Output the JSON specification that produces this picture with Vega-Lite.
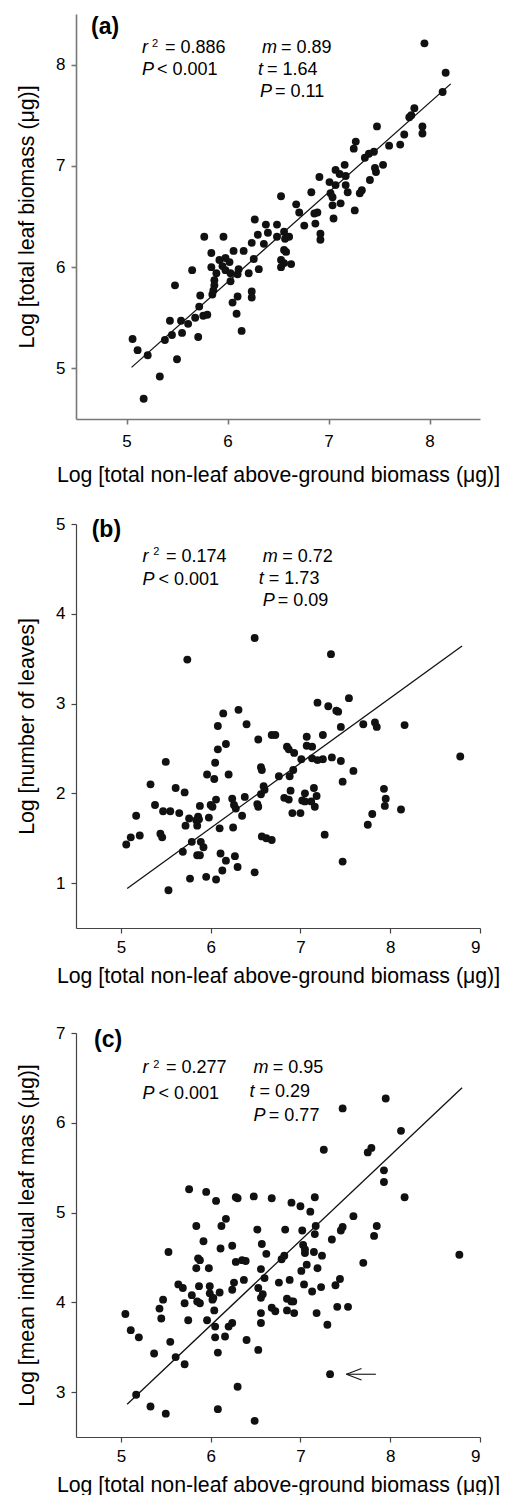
{
  "$schema": "https://vega.github.io/schema/vega-lite/v6.json",
  "padding": {"left": 16, "top": 14, "right": 5, "bottom": 3},
  "background": "white",
  "config": {
    "font": "Liberation Sans",
    "view": {"stroke": null},
    "axis": {"grid": false, "labelFont": "Liberation Sans", "titleFont": "Liberation Sans", "labelFontSize": 17, "titleFontSize": 21.3, "titleFontWeight": "normal", "labelColor": "#000", "titleColor": "#000", "tickSize": 5, "labelPadding": 6, "domainColor": "#444", "tickColor": "#444", "domainWidth": 1.2, "tickWidth": 1.2},
    "axisY": {"titlePadding": 18},
    "axisX": {"titlePadding": 10},
    "concat": {"spacing": 105}
  },
  "bounds": "flush",
  "spacing": 105,
  "datasets": {
    "a": [
      {"x":7.95,"y":8.21},{"x":8.16,"y":7.92},{"x":8.13,"y":7.73},{"x":7.85,"y":7.57},{"x":7.82,"y":7.5},{"x":7.8,"y":7.48},{"x":7.93,"y":7.39},{"x":7.93,"y":7.32},{"x":7.48,"y":7.39},{"x":7.75,"y":7.31},
      {"x":7.6,"y":7.2},{"x":7.71,"y":7.21},{"x":7.27,"y":7.24},{"x":7.25,"y":7.17},{"x":7.45,"y":7.14},{"x":7.4,"y":7.12},{"x":7.36,"y":7.08},{"x":7.54,"y":7.01},{"x":7.46,"y":6.98},{"x":7.47,"y":6.94},
      {"x":7.41,"y":6.86},{"x":7.16,"y":7.01},{"x":7.07,"y":6.96},{"x":7.11,"y":6.92},{"x":7.17,"y":6.9},{"x":6.91,"y":6.89},{"x":7.01,"y":6.84},{"x":7.17,"y":6.81},{"x":7.07,"y":6.81},{"x":7.33,"y":6.76},
      {"x":7.31,"y":6.73},{"x":7.19,"y":6.74},{"x":6.83,"y":6.74},{"x":7.02,"y":6.73},{"x":7.04,"y":6.69},{"x":6.53,"y":6.7},{"x":7.12,"y":6.63},{"x":7.04,"y":6.61},{"x":7.26,"y":6.56},{"x":6.68,"y":6.62},
      {"x":6.71,"y":6.54},{"x":6.89,"y":6.54},{"x":6.86,"y":6.53},{"x":7.05,"y":6.48},{"x":6.87,"y":6.43},{"x":6.76,"y":6.41},{"x":6.27,"y":6.47},{"x":6.38,"y":6.42},{"x":6.49,"y":6.42},
      {"x":5.77,"y":6.3},{"x":5.96,"y":6.3},{"x":6.24,"y":6.24},{"x":6.3,"y":6.32},{"x":6.36,"y":6.23},{"x":6.4,"y":6.34},{"x":6.49,"y":6.3},{"x":6.56,"y":6.35},{"x":6.61,"y":6.3},{"x":6.92,"y":6.33},
      {"x":6.92,"y":6.27},{"x":5.84,"y":6.14},{"x":5.92,"y":6.07},{"x":5.98,"y":6.09},{"x":6.02,"y":6.05},{"x":6.06,"y":6.16},{"x":6.16,"y":6.16},{"x":6.26,"y":6.08},{"x":6.56,"y":6.17},{"x":6.58,"y":6.15},
      {"x":6.53,"y":6.07},{"x":6.56,"y":6.04},{"x":6.53,"y":6.0},{"x":6.63,"y":6.03},{"x":5.84,"y":6.0},{"x":5.95,"y":6.01},{"x":5.98,"y":5.97},{"x":6.03,"y":5.94},{"x":6.11,"y":5.98},{"x":6.1,"y":5.93},
      {"x":6.21,"y":5.94},{"x":6.31,"y":5.98},{"x":5.89,"y":5.94},{"x":5.87,"y":5.87},{"x":6.03,"y":5.86},{"x":5.87,"y":5.82},{"x":5.86,"y":5.77},{"x":5.85,"y":5.73},{"x":5.65,"y":5.97},{"x":5.48,"y":5.82},
      {"x":5.73,"y":5.72},{"x":6.05,"y":5.65},{"x":6.1,"y":5.71},{"x":6.24,"y":5.76},{"x":6.24,"y":5.7},{"x":5.72,"y":5.61},{"x":5.68,"y":5.5},{"x":5.76,"y":5.52},{"x":5.8,"y":5.53},{"x":6.09,"y":5.54},
      {"x":6.14,"y":5.37},{"x":5.54,"y":5.47},{"x":5.43,"y":5.47},{"x":5.61,"y":5.44},{"x":5.45,"y":5.33},{"x":5.55,"y":5.35},{"x":5.71,"y":5.31},{"x":5.38,"y":5.28},{"x":5.06,"y":5.29},{"x":5.11,"y":5.18},
      {"x":5.21,"y":5.13},{"x":5.5,"y":5.09},{"x":5.33,"y":4.92},{"x":5.17,"y":4.7},{"x":6.57,"y":6.28}
    ],
    "b": [
      {"x":5.74,"y":3.49},{"x":6.49,"y":3.73},{"x":7.34,"y":3.55},{"x":7.19,"y":3.01},{"x":7.31,"y":2.97},{"x":7.4,"y":2.92},{"x":7.42,"y":2.91},{"x":7.54,"y":3.06},{"x":6.14,"y":2.89},{"x":6.31,"y":2.93},
      {"x":6.08,"y":2.75},{"x":6.4,"y":2.77},{"x":7.45,"y":2.74},{"x":7.7,"y":2.77},{"x":7.83,"y":2.79},{"x":7.85,"y":2.74},{"x":8.16,"y":2.76},{"x":6.53,"y":2.6},{"x":6.68,"y":2.65},{"x":6.72,"y":2.65},
      {"x":7.07,"y":2.63},{"x":7.25,"y":2.65},{"x":6.17,"y":2.55},{"x":6.08,"y":2.49},{"x":6.85,"y":2.52},{"x":6.87,"y":2.49},{"x":7.07,"y":2.53},{"x":7.13,"y":2.52},{"x":6.93,"y":2.45},{"x":8.78,"y":2.41},
      {"x":6.05,"y":2.34},{"x":5.5,"y":2.35},{"x":7.01,"y":2.38},{"x":7.13,"y":2.39},{"x":7.19,"y":2.37},{"x":7.25,"y":2.38},{"x":7.35,"y":2.4},{"x":7.45,"y":2.36},{"x":6.56,"y":2.29},{"x":6.57,"y":2.26},
      {"x":6.92,"y":2.26},{"x":7.59,"y":2.25},{"x":5.96,"y":2.21},{"x":6.04,"y":2.16},{"x":6.2,"y":2.21},{"x":6.76,"y":2.19},{"x":6.88,"y":2.19},{"x":5.33,"y":2.1},{"x":7.47,"y":2.13},{"x":5.61,"y":2.06},
      {"x":5.71,"y":2.01},{"x":6.59,"y":2.08},{"x":6.6,"y":2.04},{"x":6.89,"y":2.03},{"x":7.15,"y":2.06},{"x":7.05,"y":2.0},{"x":7.93,"y":2.05},{"x":6.56,"y":1.99},{"x":6.06,"y":1.93},{"x":6.24,"y":1.94},
      {"x":6.38,"y":1.96},{"x":6.82,"y":1.95},{"x":6.87,"y":1.93},{"x":7.02,"y":1.92},{"x":7.05,"y":1.91},{"x":7.12,"y":1.91},{"x":7.18,"y":1.97},{"x":7.95,"y":1.94},{"x":5.38,"y":1.87},{"x":5.88,"y":1.86},
      {"x":6.02,"y":1.85},{"x":6.0,"y":1.87},{"x":6.26,"y":1.87},{"x":6.28,"y":1.83},{"x":6.52,"y":1.88},{"x":6.53,"y":1.85},{"x":7.16,"y":1.85},{"x":7.94,"y":1.86},{"x":8.12,"y":1.82},{"x":5.47,"y":1.8},
      {"x":5.55,"y":1.8},{"x":5.65,"y":1.78},{"x":5.17,"y":1.75},{"x":6.91,"y":1.78},{"x":7.0,"y":1.78},{"x":7.8,"y":1.77},{"x":5.86,"y":1.74},{"x":5.87,"y":1.71},{"x":5.76,"y":1.72},{"x":5.98,"y":1.73},
      {"x":6.35,"y":1.75},{"x":5.72,"y":1.64},{"x":5.85,"y":1.64},{"x":5.84,"y":1.7},{"x":7.75,"y":1.65},{"x":6.1,"y":1.61},{"x":6.25,"y":1.62},{"x":7.27,"y":1.54},{"x":5.21,"y":1.53},{"x":5.11,"y":1.51},
      {"x":5.06,"y":1.43},{"x":5.44,"y":1.55},{"x":5.46,"y":1.51},{"x":6.57,"y":1.52},{"x":6.62,"y":1.5},{"x":6.68,"y":1.48},{"x":5.79,"y":1.46},{"x":5.89,"y":1.46},{"x":5.92,"y":1.4},{"x":5.69,"y":1.35},
      {"x":5.85,"y":1.31},{"x":5.88,"y":1.31},{"x":6.11,"y":1.33},{"x":6.27,"y":1.3},{"x":6.17,"y":1.25},{"x":7.47,"y":1.24},{"x":6.3,"y":1.18},{"x":6.13,"y":1.14},{"x":6.49,"y":1.12},{"x":5.95,"y":1.07},
      {"x":5.77,"y":1.05},{"x":6.06,"y":1.04},{"x":5.53,"y":0.92}
    ],
    "c": [
      {"x":7.95,"y":6.27},{"x":7.47,"y":6.16},{"x":8.12,"y":5.91},{"x":7.26,"y":5.7},{"x":7.75,"y":5.67},{"x":7.79,"y":5.72},{"x":7.93,"y":5.47},{"x":7.93,"y":5.34},{"x":8.16,"y":5.17},{"x":5.76,"y":5.26},
      {"x":5.95,"y":5.23},{"x":6.06,"y":5.13},{"x":6.28,"y":5.17},{"x":6.3,"y":5.16},{"x":6.48,"y":5.18},{"x":6.68,"y":5.16},{"x":6.9,"y":5.11},{"x":7.0,"y":5.07},{"x":7.16,"y":5.17},{"x":7.11,"y":5.01},
      {"x":7.59,"y":4.96},{"x":6.17,"y":4.93},{"x":5.84,"y":4.85},{"x":6.12,"y":4.85},{"x":6.52,"y":4.81},{"x":6.83,"y":4.81},{"x":7.02,"y":4.8},{"x":7.17,"y":4.85},{"x":7.47,"y":4.84},{"x":7.45,"y":4.8},
      {"x":7.85,"y":4.85},{"x":7.82,"y":4.74},{"x":7.16,"y":4.76},{"x":7.35,"y":4.7},{"x":5.92,"y":4.68},{"x":6.24,"y":4.63},{"x":6.57,"y":4.65},{"x":7.03,"y":4.64},{"x":7.05,"y":4.59},{"x":7.05,"y":4.55},
      {"x":6.11,"y":4.6},{"x":5.53,"y":4.56},{"x":7.15,"y":4.56},{"x":6.62,"y":4.54},{"x":6.82,"y":4.52},{"x":6.79,"y":4.48},{"x":7.24,"y":4.52},{"x":8.77,"y":4.53},{"x":5.86,"y":4.49},{"x":5.88,"y":4.47},
      {"x":6.28,"y":4.45},{"x":6.35,"y":4.47},{"x":6.39,"y":4.46},{"x":7.7,"y":4.44},{"x":7.07,"y":4.42},{"x":5.84,"y":4.38},{"x":5.98,"y":4.38},{"x":6.56,"y":4.37},{"x":7.19,"y":4.38},{"x":7.01,"y":4.35},
      {"x":6.6,"y":4.27},{"x":6.37,"y":4.25},{"x":6.26,"y":4.22},{"x":6.88,"y":4.25},{"x":7.44,"y":4.26},{"x":5.64,"y":4.2},{"x":5.69,"y":4.16},{"x":5.87,"y":4.18},{"x":5.99,"y":4.18},{"x":6.76,"y":4.22},
      {"x":7.04,"y":4.2},{"x":7.23,"y":4.17},{"x":7.39,"y":4.19},{"x":6.53,"y":4.16},{"x":5.99,"y":4.1},{"x":6.03,"y":4.05},{"x":6.02,"y":4.03},{"x":5.79,"y":4.08},{"x":6.1,"y":4.11},{"x":6.24,"y":4.14},
      {"x":7.13,"y":4.12},{"x":6.58,"y":4.09},{"x":6.56,"y":4.05},{"x":5.47,"y":4.03},{"x":5.85,"y":4.01},{"x":5.88,"y":3.99},{"x":5.71,"y":3.99},{"x":6.85,"y":4.04},{"x":6.9,"y":4.01},{"x":6.92,"y":4.01},
      {"x":5.43,"y":3.93},{"x":5.05,"y":3.87},{"x":6.04,"y":3.91},{"x":6.68,"y":3.94},{"x":6.72,"y":3.9},{"x":6.85,"y":3.91},{"x":6.93,"y":3.88},{"x":6.56,"y":3.88},{"x":7.18,"y":3.88},{"x":7.41,"y":3.95},
      {"x":7.53,"y":3.95},{"x":5.45,"y":3.82},{"x":5.75,"y":3.8},{"x":5.96,"y":3.8},{"x":6.24,"y":3.77},{"x":6.2,"y":3.73},{"x":6.05,"y":3.73},{"x":6.56,"y":3.77},{"x":7.3,"y":3.75},{"x":5.11,"y":3.69},
      {"x":5.2,"y":3.61},{"x":6.05,"y":3.61},{"x":6.16,"y":3.62},{"x":6.4,"y":3.58},{"x":5.55,"y":3.56},{"x":6.53,"y":3.47},{"x":5.37,"y":3.43},{"x":6.08,"y":3.44},{"x":5.61,"y":3.39},{"x":5.71,"y":3.31},
      {"x":7.33,"y":3.2},{"x":6.3,"y":3.06},{"x":5.17,"y":2.97},{"x":5.33,"y":2.84},{"x":6.08,"y":2.81},{"x":5.5,"y":2.76},{"x":6.49,"y":2.68}
    ]
  },
  "vconcat": [
    {
      "width": 404, "height": 405,
      "encoding": {
        "x": {"field": "x", "type": "quantitative", "scale": {"domain": [4.5, 8.5], "nice": false, "zero": false}, "axis": {"values": [5, 6, 7, 8], "title": "Log [total non-leaf above-ground biomass (μg)]", "labelPadding": 9, "titlePadding": 15, "domainColor": "#777", "tickColor": "#777", "domainWidth": 1.6, "tickWidth": 1.6}},
        "y": {"field": "y", "type": "quantitative", "scale": {"domain": [4.5, 8.5], "nice": false, "zero": false}, "axis": {"values": [5, 6, 7, 8], "title": "Log [total leaf biomass (μg)]", "domainColor": "#777", "tickColor": "#777", "domainWidth": 1.6, "tickWidth": 1.6}}
      },
      "layer": [
        {"data": {"name": "a"}, "mark": {"type": "circle", "size": 62, "color": "#111", "opacity": 1}},
        {"data": {"values": [{"x": 5.05, "y": 5.01}, {"x": 8.21, "y": 7.81}]}, "mark": {"type": "line", "color": "#111", "strokeWidth": 1.3}},
        {"data": {"values": [{"x": 5.153, "y": 8.115, "t": "r"}, {"x": 5.153, "y": 7.898, "t": "P"}, {"x": 6.342, "y": 8.115, "t": "m"}, {"x": 6.302, "y": 7.898, "t": "t"}, {"x": 6.322, "y": 7.68, "t": "P"}]}, "mark": {"type": "text", "align": "left", "baseline": "alphabetic", "fontSize": 18, "fontStyle": "italic", "color": "#000"}, "encoding": {"text": {"field": "t"}}},
        {"data": {"values": [{"x": 5.381, "y": 8.115, "t": "= 0.886"}, {"x": 5.302, "y": 7.898, "t": "< 0.001"}, {"x": 6.53, "y": 8.115, "t": "= 0.89"}, {"x": 6.391, "y": 7.898, "t": "= 1.64"}, {"x": 6.47, "y": 7.68, "t": "= 0.11"}]}, "mark": {"type": "text", "align": "left", "baseline": "alphabetic", "fontSize": 18, "color": "#000"}, "encoding": {"text": {"field": "t"}}},
        {"data": {"values": [{"x": 5.252, "y": 8.177, "t": "2"}]}, "mark": {"type": "text", "align": "left", "baseline": "alphabetic", "fontSize": 11, "color": "#000"}, "encoding": {"text": {"field": "t"}}},
        {"data": {"values": [{"x": 4.649, "y": 8.307, "t": "(a)"}]}, "mark": {"type": "text", "align": "left", "baseline": "alphabetic", "fontSize": 23, "fontWeight": "bold", "color": "#000"}, "encoding": {"text": {"field": "t"}}}
      ]
    },
    {
      "width": 404, "height": 404,
      "encoding": {
        "x": {"field": "x", "type": "quantitative", "scale": {"domain": [4.5, 9], "nice": false, "zero": false}, "axis": {"values": [5, 6, 7, 8, 9], "title": "Log [total non-leaf above-ground biomass (μg)]"}},
        "y": {"field": "y", "type": "quantitative", "scale": {"domain": [0.5, 5], "nice": false, "zero": false}, "axis": {"values": [1, 2, 3, 4, 5], "title": "Log [number of leaves]"}}
      },
      "layer": [
        {"data": {"name": "b"}, "mark": {"type": "circle", "size": 62, "color": "#111", "opacity": 1}},
        {"data": {"values": [{"x": 5.07, "y": 0.94}, {"x": 8.8, "y": 3.64}]}, "mark": {"type": "line", "color": "#111", "strokeWidth": 1.3}},
        {"data": {"values": [{"x": 5.24, "y": 4.58, "t": "r"}, {"x": 5.24, "y": 4.32, "t": "P"}, {"x": 6.581, "y": 4.58, "t": "m"}, {"x": 6.536, "y": 4.33, "t": "t"}, {"x": 6.581, "y": 4.085, "t": "P"}]}, "mark": {"type": "text", "align": "left", "baseline": "alphabetic", "fontSize": 18, "fontStyle": "italic", "color": "#000"}, "encoding": {"text": {"field": "t"}}},
        {"data": {"values": [{"x": 5.502, "y": 4.58, "t": "= 0.174"}, {"x": 5.419, "y": 4.32, "t": "< 0.001"}, {"x": 6.797, "y": 4.58, "t": "= 0.72"}, {"x": 6.648, "y": 4.33, "t": "= 1.73"}, {"x": 6.748, "y": 4.085, "t": "= 0.09"}]}, "mark": {"type": "text", "align": "left", "baseline": "alphabetic", "fontSize": 18, "color": "#000"}, "encoding": {"text": {"field": "t"}}},
        {"data": {"values": [{"x": 5.36, "y": 4.65, "t": "2"}]}, "mark": {"type": "text", "align": "left", "baseline": "alphabetic", "fontSize": 11, "color": "#000"}, "encoding": {"text": {"field": "t"}}},
        {"data": {"values": [{"x": 4.675, "y": 4.851, "t": "(b)"}]}, "mark": {"type": "text", "align": "left", "baseline": "alphabetic", "fontSize": 23, "fontWeight": "bold", "color": "#000"}, "encoding": {"text": {"field": "t"}}}
      ]
    },
    {
      "width": 404, "height": 404,
      "encoding": {
        "x": {"field": "x", "type": "quantitative", "scale": {"domain": [4.5, 9], "nice": false, "zero": false}, "axis": {"values": [5, 6, 7, 8, 9], "title": "Log [total non-leaf above-ground biomass (μg)]"}},
        "y": {"field": "y", "type": "quantitative", "scale": {"domain": [2.5, 7], "nice": false, "zero": false}, "axis": {"values": [3, 4, 5, 6, 7], "title": "Log [mean individual leaf mass (μg)]"}}
      },
      "layer": [
        {"data": {"name": "c"}, "mark": {"type": "circle", "size": 62, "color": "#111", "opacity": 1}},
        {"data": {"values": [{"x": 5.07, "y": 2.865}, {"x": 8.8, "y": 6.39}]}, "mark": {"type": "line", "color": "#111", "strokeWidth": 1.3}},
        {"data": {"values": [{"seg": "shaft", "x": 7.84, "y": 3.199}, {"seg": "shaft", "x": 7.512, "y": 3.199}, {"seg": "h1", "x": 7.68, "y": 3.264}, {"seg": "h1", "x": 7.512, "y": 3.199}, {"seg": "h2", "x": 7.68, "y": 3.134}, {"seg": "h2", "x": 7.512, "y": 3.199}]}, "mark": {"type": "line", "color": "#111", "strokeWidth": 1.1}, "encoding": {"detail": {"field": "seg"}}},
        {"data": {"values": [{"x": 5.24, "y": 6.55, "t": "r"}, {"x": 5.24, "y": 6.265, "t": "P"}, {"x": 6.477, "y": 6.55, "t": "m"}, {"x": 6.432, "y": 6.283, "t": "t"}, {"x": 6.477, "y": 6.015, "t": "P"}]}, "mark": {"type": "text", "align": "left", "baseline": "alphabetic", "fontSize": 18, "fontStyle": "italic", "color": "#000"}, "encoding": {"text": {"field": "t"}}},
        {"data": {"values": [{"x": 5.502, "y": 6.55, "t": "= 0.277"}, {"x": 5.419, "y": 6.265, "t": "< 0.001"}, {"x": 6.692, "y": 6.55, "t": "= 0.95"}, {"x": 6.544, "y": 6.283, "t": "= 0.29"}, {"x": 6.648, "y": 6.015, "t": "= 0.77"}]}, "mark": {"type": "text", "align": "left", "baseline": "alphabetic", "fontSize": 18, "color": "#000"}, "encoding": {"text": {"field": "t"}}},
        {"data": {"values": [{"x": 5.36, "y": 6.61, "t": "2"}]}, "mark": {"type": "text", "align": "left", "baseline": "alphabetic", "fontSize": 11, "color": "#000"}, "encoding": {"text": {"field": "t"}}},
        {"data": {"values": [{"x": 4.701, "y": 6.848, "t": "(c)"}]}, "mark": {"type": "text", "align": "left", "baseline": "alphabetic", "fontSize": 23, "fontWeight": "bold", "color": "#000"}, "encoding": {"text": {"field": "t"}}}
      ]
    }
  ]
}
